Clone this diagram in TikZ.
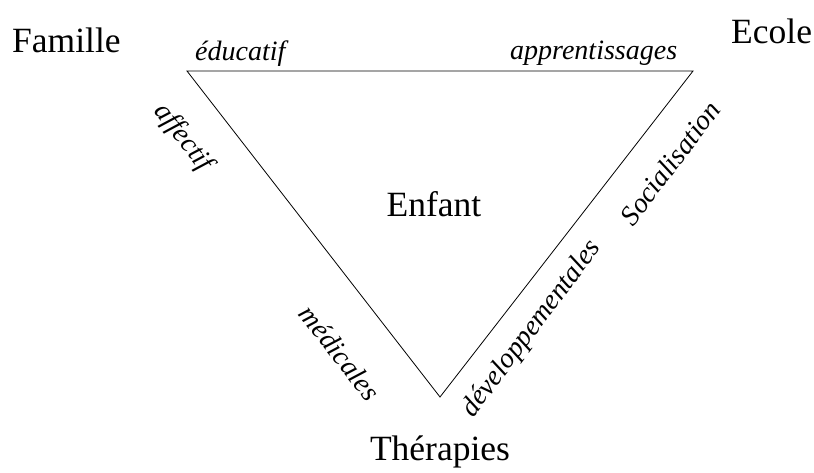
\documentclass[tikz,border=0pt]{standalone}
\usepackage{fontspec}
\setmainfont{Liberation Serif}[ItalicFont={Liberation Serif Italic}]
\begin{document}
\begin{tikzpicture}[x=1pt,y=-1pt,
  big/.style={font=\fontsize{35.5}{40}\selectfont, inner sep=0pt},
  lab/.style={font=\fontsize{28}{32}\selectfont\itshape, inner sep=0pt},
  edge/.style={draw=black, line width=0.8pt}]
\useasboundingbox (0,0) rectangle (814,472);
\coordinate (A) at (187,71);
\coordinate (B) at (693,71);
\coordinate (C) at (440,397);
\draw[edge] (A) -- (B) -- (C) -- cycle;
\node[big, anchor=base west] (famille) at (12,52) {Famille};
\node[big, anchor=base west] (ecole) at (731,43) {Ecole};
\node[big, anchor=base] (enfant) at (434,216) {Enfant};
\node[big, anchor=base] (therapies) at (440,460) {Thérapies};
\node[lab, anchor=base west] (educatif) at (195,60) {éducatif};
\node[lab, anchor=base west] (apprent) at (510,59) {apprentissages};
\node[lab, rotate=-52] (affectif) at (183,138) {affectif};
\node[lab, rotate=-52] (medicales) at (340,353) {médicales};
\node[lab, rotate=53] (devel) at (532,329) {développementales};
\node[lab, rotate=53] (social) at (670,163) {Socialisation};
\end{tikzpicture}
\end{document}
